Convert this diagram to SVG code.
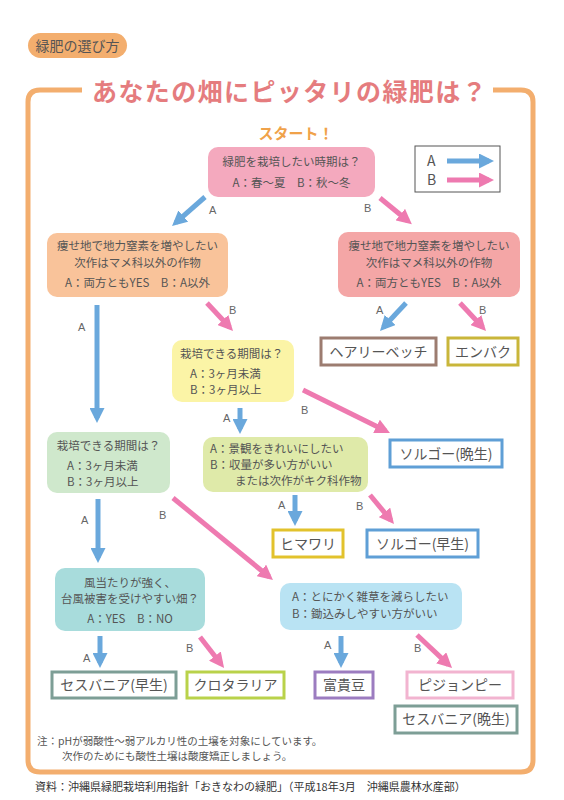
<svg xmlns="http://www.w3.org/2000/svg" width="564" height="800" viewBox="0 0 564 800">
<style>
text{font-family:"Noto Sans CJK JP","Noto Sans",sans-serif;fill:#555}
.t{font-size:11.5px}
.c{text-anchor:middle}
.lbl{font-size:11px;fill:#666;font-family:"Liberation Sans","Noto Sans",sans-serif}
.leaf rect{fill:#fff;stroke-width:3}
.leaf text{font-size:14px;text-anchor:middle;fill:#555}
.ab{fill:none;stroke:#6aa8dc;stroke-width:5;marker-end:url(#hb)}
.pb{fill:none;stroke:#ee7ab0;stroke-width:5;marker-end:url(#hp)}
</style>
<defs>
<marker id="hb" markerWidth="3" markerHeight="3" refX="2" refY="1.5" orient="auto"><path d="M0,0 L3,1.5 L0,3 z" fill="#6aa8dc"/></marker>
<marker id="hp" markerWidth="3" markerHeight="3" refX="2" refY="1.5" orient="auto"><path d="M0,0 L3,1.5 L0,3 z" fill="#ee7ab0"/></marker>
</defs>
<rect width="564" height="800" fill="#fff"/>
<g id="header">
<rect x="28" y="33" width="99" height="25" rx="12.5" fill="#f3ae6e"/>
<text x="77.5" y="51" class="c" font-size="14" fill="#555">緑肥の選び方</text>
</g>
<g id="frame">
<path d="M82 90 H40 Q28 90 28 102 V760 Q28 772 40 772 H521 Q533 772 533 760 V102 Q533 90 521 90 H493" fill="none" stroke="#f3ae6e" stroke-width="5"/>
<text x="290" y="101" class="c" font-size="25" font-weight="bold" letter-spacing="1.4" style="fill:#e57c7e">あなたの畑にピッタリの緑肥は？</text>
</g>
<g id="start-label"><text x="296" y="139" class="c" font-size="15" font-weight="bold" style="fill:#f0a24a">スタート！</text></g>
<g id="legend">
<rect x="415" y="146" width="85" height="46" fill="#fff" stroke="#555" stroke-width="1"/>
<text x="427" y="166" font-size="14" font-family="Liberation Sans">A</text>
<text x="427" y="185" font-size="14" font-family="Liberation Sans">B</text>
<path d="M447 161 H489" fill="none" stroke="#6aa8dc" stroke-width="5" marker-end="url(#hb)"/>
<path d="M447 180 H489" fill="none" stroke="#ee7ab0" stroke-width="5" marker-end="url(#hp)"/>
</g>
<g id="n-start">
<rect x="208" y="147" width="167" height="50" rx="10" fill="#f4a9be"/>
<text x="291.5" y="166" class="t c">緑肥を栽培したい時期は？</text>
<text x="291.5" y="187" class="t c">A：春〜夏　B：秋〜冬</text>
</g>
<g id="n-left1">
<rect x="47" y="233" width="181" height="64" rx="10" fill="#f9c39a"/>
<text x="137.5" y="250" class="t c">痩せ地で地力窒素を増やしたい</text>
<text x="137.5" y="267" class="t c">次作はマメ科以外の作物</text>
<text x="137.5" y="287" class="t c">A：両方ともYES　B：A以外</text>
</g>
<g id="n-right1">
<rect x="338" y="232" width="182" height="65" rx="10" fill="#f4a6a6"/>
<text x="429" y="250" class="t c">痩せ地で地力窒素を増やしたい</text>
<text x="429" y="267" class="t c">次作はマメ科以外の作物</text>
<text x="429" y="287" class="t c">A：両方ともYES　B：A以外</text>
</g>
<g id="n-yellow">
<rect x="172" y="340" width="122" height="62" rx="10" fill="#fbf4a6"/>
<text x="180" y="358" class="t">栽培できる期間は？</text>
<text x="190" y="378" class="t">A：3ヶ月未満</text>
<text x="190" y="394" class="t">B：3ヶ月以上</text>
</g>
<g id="n-greenyellow">
<rect x="203" y="437" width="165" height="55" rx="10" fill="#dfeaa9"/>
<text x="210" y="453" class="t">A：景観をきれいにしたい</text>
<text x="210" y="469" class="t">B：収量が多い方がいい</text>
<text x="235" y="485" class="t">または次作がキク科作物</text>
</g>
<g id="n-green">
<rect x="47" y="432" width="123" height="61" rx="10" fill="#cfe8cc"/>
<text x="108.5" y="450" class="t c">栽培できる期間は？</text>
<text x="67" y="470" class="t">A：3ヶ月未満</text>
<text x="67" y="486" class="t">B：3ヶ月以上</text>
</g>
<g id="n-cyan">
<rect x="55" y="568" width="150" height="63" rx="10" fill="#a8dcdc"/>
<text x="130" y="587" class="t c">風当たりが強く、</text>
<text x="130" y="603" class="t c">台風被害を受けやすい畑？</text>
<text x="130" y="623" class="t c">A：YES　B：NO</text>
</g>
<g id="n-lightblue">
<rect x="280" y="583" width="182" height="47" rx="10" fill="#b9e3f3"/>
<text x="292" y="601" class="t">A：とにかく雑草を減らしたい</text>
<text x="292" y="618" class="t">B：鋤込みしやすい方がいい</text>
</g>
<g id="leaf-hairy" class="leaf"><rect x="321" y="338" width="115" height="27" stroke="#9c7c70"/><text x="378.5" y="357">ヘアリーベッチ</text></g>
<g id="leaf-enbaku" class="leaf"><rect x="448" y="338" width="70" height="27" stroke="#c9b63a"/><text x="483" y="357">エンバク</text></g>
<g id="leaf-sorgo-late" class="leaf"><rect x="390" y="440" width="112" height="27" stroke="#5f9fd6"/><text x="446" y="459">ソルゴー(晩生)</text></g>
<g id="leaf-himawari" class="leaf"><rect x="273" y="530" width="70" height="27" stroke="#e2c22c"/><text x="308" y="549">ヒマワリ</text></g>
<g id="leaf-sorgo-early" class="leaf"><rect x="367" y="530" width="111" height="27" stroke="#5f9fd6"/><text x="422.5" y="549">ソルゴー(早生)</text></g>
<g id="leaf-sesbania-early" class="leaf"><rect x="52" y="672" width="124" height="26" stroke="#7d9e96"/><text x="114" y="690">セスバニア(早生)</text></g>
<g id="leaf-crotalaria" class="leaf"><rect x="187" y="672" width="97" height="26" stroke="#b9d24a"/><text x="235.5" y="690">クロタラリア</text></g>
<g id="leaf-fukimame" class="leaf"><rect x="315" y="672" width="58" height="26" stroke="#9c7cc0"/><text x="344" y="690">富貴豆</text></g>
<g id="leaf-pigeonpea" class="leaf"><rect x="407" y="672" width="106" height="26" stroke="#f2b4d0"/><text x="460" y="690">ピジョンピー</text></g>
<g id="leaf-sesbania-late" class="leaf"><rect x="395" y="706" width="122" height="27" stroke="#7d9e96"/><text x="456" y="724">セスバニア(晩生)</text></g>
<g id="connectors">
<path class="ab" d="M205 197 L175.8 222.7"/>
<path class="pb" d="M380 198 L408 221"/>
<path class="ab" d="M97 305 V418"/>
<path class="pb" d="M207 303 L229.6 327.3"/>
<path class="ab" d="M406 303 L383.4 327.3"/>
<path class="pb" d="M460 303 L482.6 327.3"/>
<path class="ab" d="M240 408 V429"/>
<path class="pb" d="M303 390 L385.5 430.8"/>
<path class="ab" d="M98 499 V558"/>
<path class="pb" d="M173 498 L269.1 576.8"/>
<path class="ab" d="M295 495 V521"/>
<path class="pb" d="M370 495 L390.8 520.1"/>
<path class="ab" d="M100 636 V663"/>
<path class="pb" d="M200 637 L221 664"/>
<path class="ab" d="M341 636 V663"/>
<path class="pb" d="M417 635 L448.4 664.6"/>
<text class="lbl" x="209" y="214">A</text>
<text class="lbl" x="364" y="212">B</text>
<text class="lbl" x="78" y="331">A</text>
<text class="lbl" x="229" y="314">B</text>
<text class="lbl" x="376" y="314">A</text>
<text class="lbl" x="479" y="314">B</text>
<text class="lbl" x="223" y="422">A</text>
<text class="lbl" x="301" y="414">B</text>
<text class="lbl" x="81" y="524">A</text>
<text class="lbl" x="159" y="519">B</text>
<text class="lbl" x="278" y="509">A</text>
<text class="lbl" x="356" y="510">B</text>
<text class="lbl" x="83" y="662">A</text>
<text class="lbl" x="186" y="652">B</text>
<text class="lbl" x="324" y="649">A</text>
<text class="lbl" x="414" y="652">B</text>
</g>
<g id="notes">
<text x="37" y="745" font-size="10.5">注：pHが弱酸性〜弱アルカリ性の土壌を対象にしています。</text>
<text x="62" y="760" font-size="10.5">次作のためにも酸性土壌は酸度矯正しましょう。</text>
<text x="35" y="791" font-size="11" style="fill:#333">資料：沖縄県緑肥栽培利用指針「おきなわの緑肥」（平成18年3月　沖縄県農林水産部）</text>
</g>
</svg>
